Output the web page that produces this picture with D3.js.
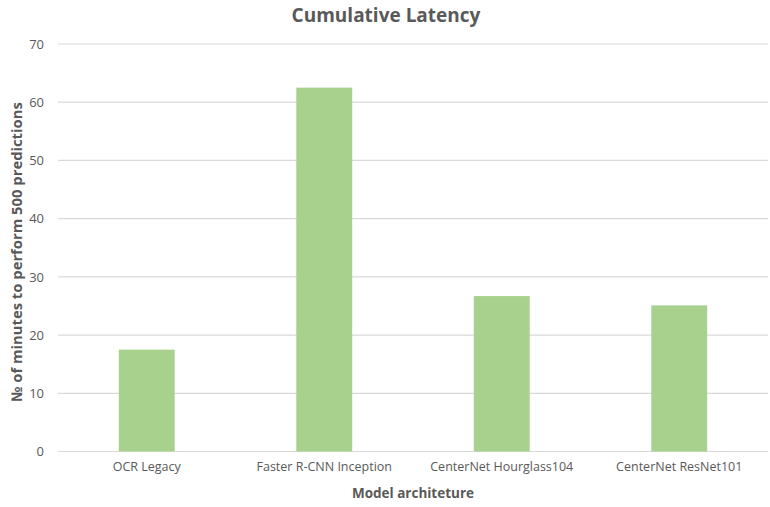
<!DOCTYPE html>
<html>
<head>
<meta charset="utf-8">
<script src="https://cdn.jsdelivr.net/npm/d3@7"></script>
<style>
  body { margin: 0; background: #fff; }
  text { font-family: "Open Sans", "Noto Sans", sans-serif; }
</style>
</head>
<body>
<svg id="chart" width="770" height="507"></svg>
<script>
const categories = ["OCR Legacy", "Faster R-CNN Inception", "CenterNet Hourglass104", "CenterNet ResNet101"];
const values = [17.5, 62.5, 26.7, 25.1];
const yTicks = [0, 10, 20, 30, 40, 50, 60, 70];
const title = "Cumulative Latency";
const xTitle = "Model architeture";
const yTitle = "№ of minutes to perform 500 predictions";

const svg = d3.select("#chart");
const margin = { left: 58, right: 2, top: 44, bottom: 56 };
const W = 770, H = 507;

const x = d3.scaleBand().domain(categories).range([margin.left, W - margin.right]).padding(0);
const y = d3.scaleLinear().domain([0, 70]).range([451.5, 44]);

// gridlines
svg.append("g").selectAll("line").data(yTicks).join("line")
  .attr("x1", margin.left).attr("x2", W - margin.right)
  .attr("y1", d => y(d)).attr("y2", d => y(d))
  .attr("stroke", "#d9d9d9").attr("stroke-width", 1.2);

// bars
const bw = x.bandwidth() * 0.315;
svg.append("g").selectAll("rect").data(values).join("rect")
  .attr("x", (d, i) => x(categories[i]) + x.bandwidth() / 2 - bw / 2)
  .attr("width", bw)
  .attr("y", d => y(d))
  .attr("height", d => y(0) - y(d))
  .attr("fill", "#a9d18e");

// y axis labels
const yAxis = d3.axisLeft(y).tickValues(yTicks).tickSize(0).tickPadding(14);
const gy = svg.append("g").attr("transform", `translate(${margin.left},0)`).call(yAxis);
gy.select(".domain").remove();
gy.selectAll("text").attr("fill", "#595959").style("font-size", "13px")
  .style("font-family", '"Open Sans", sans-serif');

// x axis labels
const xAxis = d3.axisBottom(x).tickSize(0).tickPadding(11);
const gx = svg.append("g").attr("transform", `translate(0,${y(0)})`).call(xAxis);
gx.select(".domain").remove();
gx.selectAll("text").attr("fill", "#595959").style("font-size", "12.5px")
  .style("font-family", '"Open Sans", sans-serif');

// title
svg.append("text").attr("x", 386).attr("y", 22).attr("text-anchor", "middle")
  .attr("fill", "#595959").style("font-size", "19px").style("font-weight", "bold").text(title);

// x title
svg.append("text").attr("x", (margin.left + W - margin.right) / 2).attr("y", 498).attr("text-anchor", "middle")
  .attr("fill", "#595959").style("font-size", "13.5px").style("font-weight", "bold").text(xTitle);

// y title
svg.append("text").attr("transform", "translate(22,252) rotate(-90)").attr("text-anchor", "middle")
  .attr("fill", "#595959").style("font-size", "14.8px").style("font-weight", "bold").text(yTitle);
</script>
</body>
</html>
